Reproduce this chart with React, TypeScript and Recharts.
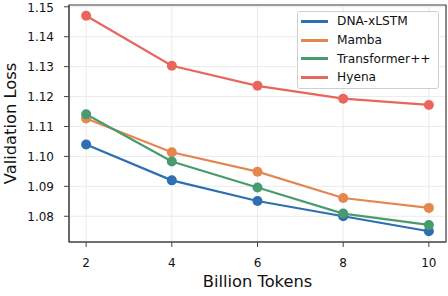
import {
  LineChart,
  Line,
  XAxis,
  YAxis,
  CartesianGrid,
  ReferenceArea,
} from 'recharts';

const tokens = [2, 4, 6, 8, 10];
const dnaXlstm = [1.104, 1.092, 1.0851, 1.08, 1.075];
const mamba = [1.1127, 1.1014, 1.0949, 1.0861, 1.0828];
const transformer = [1.1141, 1.0983, 1.0896, 1.0809, 1.0771];
const hyena = [1.147, 1.1303, 1.1236, 1.1193, 1.1172];

const xTicks = [2, 4, 6, 8, 10];
const yTicks = [1.08, 1.09, 1.1, 1.11, 1.12, 1.13, 1.14, 1.15];

const X_DOMAIN: [number, number] = [1.6, 10.4];
const Y_DOMAIN: [number, number] = [1.0714, 1.1506];

const series = [
  { key: 'dna', name: 'DNA-xLSTM', color: '#2d6fb0' },
  { key: 'mamba', name: 'Mamba', color: '#e3874f' },
  { key: 'tpp', name: 'Transformer++', color: '#489a6f' },
  { key: 'hyena', name: 'Hyena', color: '#e8665c' },
];

const data = tokens.map((t, i) => ({
  tokens: t,
  dna: dnaXlstm[i],
  mamba: mamba[i],
  tpp: transformer[i],
  hyena: hyena[i],
}));

const FONT = 'DejaVu Sans, sans-serif';
const AXIS = '#444';

// legend sits over the plot like matplotlib's "best" placement
const LegendBox = () => (
  <div
    style={{
      position: 'absolute',
      left: 297,
      top: 11,
      width: 142,
      boxSizing: 'border-box',
      border: '1px solid #cfcfcf',
      borderRadius: 3,
      background: 'rgba(255,255,255,0.85)',
      padding: '0 3px 1px 3px',
      fontFamily: FONT,
      fontSize: 12.2,
      color: '#111',
      lineHeight: 1,
    }}
  >
    {series.map((s) => (
      <div key={s.key} style={{ display: 'flex', alignItems: 'center', height: 18.7 }}>
        <span
          style={{
            display: 'inline-block',
            width: 27,
            height: 3,
            background: s.color,
            marginRight: 9,
          }}
        />
        <span>{s.name}</span>
      </div>
    ))}
  </div>
);

export default function App() {
  return (
    <div style={{ position: 'absolute', left: 0, top: 0, width: 448, height: 296, background: '#fff' }}>
      <LineChart
        width={448}
        height={296}
        data={data}
        margin={{ top: 5, right: 2, left: 0, bottom: 0 }}
      >
        <CartesianGrid stroke="#ebebeb" strokeWidth={1} />
        <XAxis
          dataKey="tokens"
          type="number"
          domain={X_DOMAIN}
          ticks={xTicks}
          height={54}
          tickSize={5}
          tickMargin={11}
          stroke={AXIS}
          tick={{ fill: '#111', fontSize: 12, fontFamily: FONT }}
          label={{
            value: 'Billion Tokens',
            position: 'insideBottom',
            offset: 9,
            fill: '#111',
            fontSize: 16.3,
            fontFamily: FONT,
          }}
        />
        <YAxis
          type="number"
          domain={Y_DOMAIN}
          ticks={yTicks}
          width={69}
          tickSize={5}
          tickMargin={10}
          stroke={AXIS}
          tickFormatter={(v: number) => v.toFixed(2)}
          tick={{ fill: '#111', fontSize: 12, fontFamily: FONT }}
          label={{
            value: 'Validation Loss',
            angle: -90,
            position: 'insideLeft',
            offset: 10,
            style: { textAnchor: 'middle' },
            fill: '#111',
            fontSize: 16.3,
            fontFamily: FONT,
          }}
        />
        <ReferenceArea
          x1={X_DOMAIN[0]}
          x2={X_DOMAIN[1]}
          y1={Y_DOMAIN[0]}
          y2={Y_DOMAIN[1]}
          fill="none"
          stroke={AXIS}
          strokeWidth={1.2}
        />
        {series.map((s) => (
          <Line
            key={s.key}
            dataKey={s.key}
            name={s.name}
            stroke={s.color}
            strokeWidth={2.2}
            dot={{ r: 5, fill: s.color, stroke: s.color, strokeWidth: 0 }}
            isAnimationActive={false}
          />
        ))}
      </LineChart>
      <LegendBox />
    </div>
  );
}
